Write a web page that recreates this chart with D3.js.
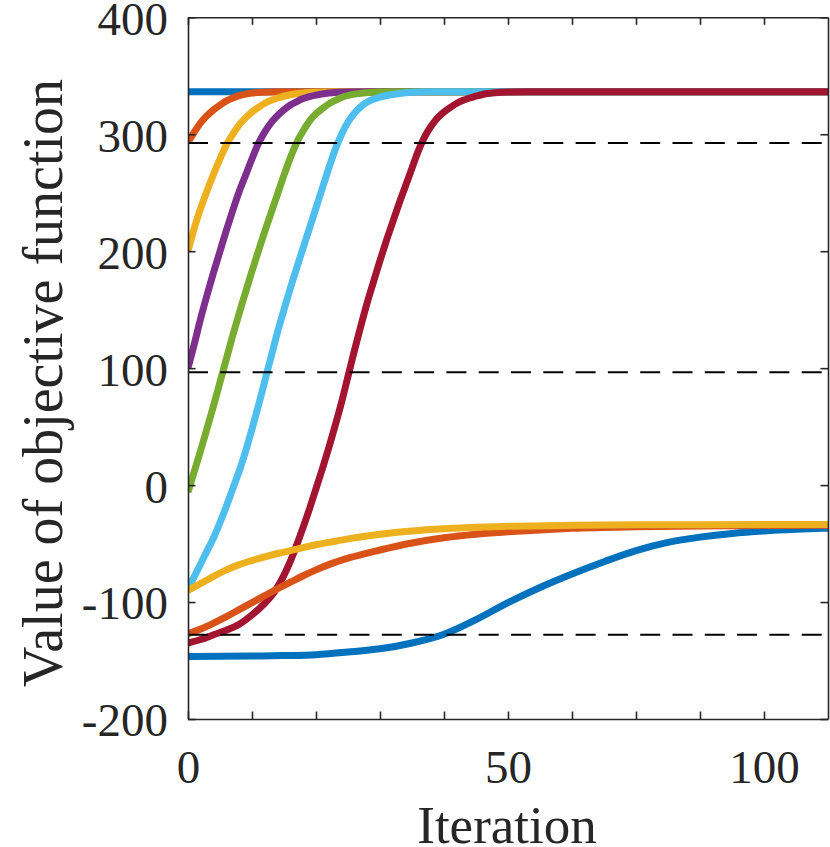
<!DOCTYPE html>
<html><head><meta charset="utf-8">
<script src="https://cdn.jsdelivr.net/npm/d3@7"></script>
<style>body{margin:0;background:#fff}svg{display:block}</style>
</head><body><svg id="chart" width="830" height="847"></svg>
<script>
// ---- data ----
const xTickValues = [0, 10, 20, 30, 40, 50, 60, 70, 80, 90];
const xTickLabels = ["0", "", "", "", "", "50", "", "", "", "100"];
const yTickValues = [-200, -100, 0, 100, 200, 300, 400];
const thresholds = [292.5, 96.5, -128];

const blueTop = [[0,336.3],[50,336.3],[100,336.3]];
const orangeTop = [[0,293],[1,302],[2,310],[3,316],[4,321],[5,325],[6,328.5],[7,331],[8,333],[9,334.3],[10,335.2],[12,336],[14,336.3],[20,336.3],[100,336.3]];
const yellowTop = [[0,200],[1,220],[2,237],[3,252],[4,266],[5,279],[6,291],[7,300],[8,308],[9,314],[10,319],[11,323],[12,326.5],[13,329],[14,331],[16,333.8],[18,335.3],[20,336],[23,336.3],[30,336.3],[100,336.3]];
const purpleTop = [[0,100],[1,121],[2,143],[3,163],[4,182],[5,200],[6,218],[7,235],[8,251],[9,265],[10,279],[11,292],[12,302],[13,310],[14,316],[15,321],[16,325],[17,328],[18,330.5],[20,333.5],[22,335.2],[25,336.2],[28,336.3],[35,336.3],[100,336.3]];
const greenTop = [[0,-6],[1,12],[2,30],[3,49],[4,68],[5,88],[6,108],[7,128],[8,147],[9,165],[10,183],[11,200],[12,217],[13,233],[14,249],[15,265],[16,280],[17,293],[18,303],[19,311.5],[20,317.5],[21,322],[22,326],[23,329],[24,331.5],[26,334.3],[28,335.6],[30,336.2],[33,336.3],[40,336.3],[100,336.3]];
const lightBlueTop = [[0,-88],[1,-78],[2,-67],[3,-56],[4,-45],[5,-32],[6,-18],[7,-3],[8,12],[9,29],[10,48],[11,68],[12,89],[13,110],[14,131],[15,150],[16,168.5],[17,186],[18,203],[19,220],[20,237],[21,254],[22,271],[23,287],[24,300],[25,310.5],[26,318],[27,323.5],[28,327.5],[29,330],[30,331.8],[32,334],[34,335.5],[36,336.2],[40,336.3],[50,336.3],[100,336.3]];
const redTop = [[0,-135],[2,-132],[4,-128],[6,-124],[8,-119],[10,-111],[12,-101],[13,-95],[14,-87],[15,-77],[16,-65],[17,-51],[18,-36],[19,-20],[20,-3],[21,14],[22,32],[23,51],[24,71],[25,93],[26,115],[27,136],[28,156],[29,174],[30,192],[31,209],[32,225],[33,241],[34,256],[35,271],[36,286],[37,298],[38,307],[39,314],[40,319],[41,323],[42,326.5],[43,329],[44,331],[45,332.5],[46,334],[48,335.5],[50,336.1],[53,336.3],[60,336.3],[100,336.3]];
const blueLow = [[0,-146.5],[10,-146.2],[15,-145.8],[20,-145],[25,-142.8],[30,-140],[35,-135],[40,-127.5],[45,-115],[50,-100.5],[55,-87.5],[60,-76],[65,-65.5],[70,-56],[75,-49],[80,-44.5],[85,-41.3],[90,-39.2],[95,-37.8],[100,-36.8]];
const orangeLow = [[0,-127],[2,-123],[4,-118],[6,-112.5],[8,-106.5],[10,-100.5],[12,-94.5],[14,-88.5],[16,-83],[18,-77.5],[20,-72.5],[22,-68],[25,-62.5],[30,-55.5],[35,-49.5],[40,-45],[45,-42],[50,-40],[55,-38.3],[60,-37],[70,-35.7],[80,-35],[90,-34.6],[100,-34.3]];
const yellowLow = [[0,-90],[2,-84],[4,-78],[6,-72.5],[8,-68],[10,-64.5],[12,-61.3],[14,-58.5],[16,-56],[18,-53.5],[20,-51],[22,-49],[25,-46],[30,-42],[35,-39.2],[40,-37.3],[45,-36],[50,-35.2],[60,-34.4],[70,-34],[80,-33.8],[100,-33.6]];

const seriesList = [blueTop, orangeTop, yellowTop, purpleTop, greenTop, lightBlueTop, redTop, blueLow, orangeLow, yellowLow];
const seriesColors = ["#0072BD","#D95319","#EDB120","#7E2F8E","#77AC30","#4DBEEE","#A2142F","#0072BD","#D95319","#EDB120"];

// ---- layout ----
const L = 188, R = 828, T = 17.3, B = 719;
const axisColor = "#262626";
const fontFam = '"Liberation Serif"';

const svg = d3.select("#chart");
const x = d3.scaleLinear().domain([0, 100]).range([L, R]);
const y = d3.scaleLinear().domain([-200, 400]).range([B, T]);

svg.append("clipPath").attr("id", "plotclip")
  .append("rect").attr("x", L).attr("y", T).attr("width", R - L).attr("height", B - T);

const line = d3.line().x(d => x(d[0])).y(d => y(d[1])).curve(d3.curveMonotoneX);

const plot = svg.append("g").attr("clip-path", "url(#plotclip)");
plot.selectAll("path.series").data(seriesList).join("path")
  .attr("class", "series")
  .attr("d", line)
  .attr("fill", "none")
  .attr("stroke", (d, i) => seriesColors[i])
  .attr("stroke-width", 7)
  .attr("stroke-linejoin", "round")
  .attr("stroke-linecap", "butt");

plot.selectAll("line.thr").data(thresholds).join("line")
  .attr("class", "thr")
  .attr("x1", x(0)).attr("x2", x(100))
  .attr("y1", d => y(d)).attr("y2", d => y(d))
  .attr("stroke", "#000").attr("stroke-width", 2)
  .attr("stroke-dasharray", "20,12.3");

// ---- axes (box with inward ticks) ----
function styleAxis(g, showText) {
  g.select(".domain").attr("stroke", axisColor).attr("stroke-width", 1.6);
  g.selectAll(".tick line").attr("stroke", axisColor).attr("stroke-width", 1.6);
  g.selectAll(".tick text").attr("fill", axisColor)
    .style("font-family", fontFam).style("font-size", "47px");
  if (!showText) g.selectAll(".tick text").remove();
}

const xAxisB = svg.append("g").attr("transform", `translate(0,${B})`)
  .call(d3.axisBottom(x).tickValues(xTickValues).tickSizeInner(-7.5).tickSizeOuter(0)
    .tickPadding(31).tickFormat((d, i) => xTickLabels[i]));
styleAxis(xAxisB, true);
xAxisB.selectAll(".tick text").attr("dy", "0.71em");

const xAxisT = svg.append("g").attr("transform", `translate(0,${T})`)
  .call(d3.axisTop(x).tickValues(xTickValues).tickSizeInner(-7.5).tickSizeOuter(0));
styleAxis(xAxisT, false);

const yAxisL = svg.append("g").attr("transform", `translate(${L},0)`)
  .call(d3.axisLeft(y).tickValues(yTickValues).tickSizeInner(-7.5).tickSizeOuter(0)
    .tickPadding(20).tickFormat(d => String(d)));
styleAxis(yAxisL, true);
yAxisL.selectAll(".tick text").attr("dy", "0.36em");

const yAxisR = svg.append("g").attr("transform", `translate(${R},0)`)
  .call(d3.axisRight(y).tickValues(yTickValues).tickSizeInner(-7.5).tickSizeOuter(0));
styleAxis(yAxisR, false);

// ---- axis titles ----
svg.append("text")
  .attr("x", 507).attr("y", 843)
  .attr("text-anchor", "middle")
  .style("font-family", fontFam).style("font-size", "53px")
  .attr("fill", axisColor)
  .text("Iteration");

svg.append("text")
  .attr("transform", "translate(62,383) rotate(-90)")
  .attr("text-anchor", "middle")
  .style("font-family", fontFam).style("font-size", "56px")
  .attr("fill", axisColor)
  .text("Value of objective function");
</script>
</body></html>
